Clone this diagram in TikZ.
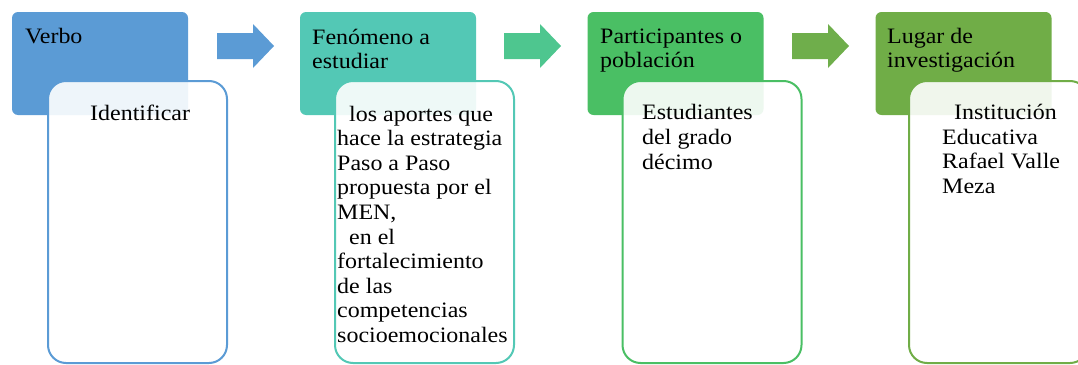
\documentclass[tikz,border=0pt]{standalone}
\usepackage{fontspec}
\setmainfont{Liberation Serif}[FakeStretch=1.09]
\definecolor{cA}{HTML}{5B9BD5}
\definecolor{cB}{HTML}{53C8B5}
\definecolor{cC}{HTML}{4ABF64}
\definecolor{cD}{HTML}{70AD47}
\definecolor{aA}{HTML}{5B9BD5}
\definecolor{aB}{HTML}{4EC68F}
\definecolor{aC}{HTML}{6FAE4B}
\tikzset{
  hdr/.style={rectangle, rounded corners=6pt, minimum width=176pt, minimum height=103pt, inner sep=0pt, draw=none},
  wbox/.style={rectangle, rounded corners=18pt, minimum width=179pt, minimum height=282pt, inner sep=0pt, line width=2pt, fill=white, fill opacity=0.9, draw opacity=1},
  txt/.style={inner sep=0pt, align=left, anchor=base west, font=\fontsize{22}{24.6}\selectfont, text=black},
  htxt/.style={txt, font=\fontsize{22}{24}\selectfont}
}
\newcommand{\ind}{\hspace*{12pt}}
\begin{document}
\begin{tikzpicture}[x=1pt,y=-1pt]
\useasboundingbox (0,0) rectangle (1078,364);
\clip (0,0) rectangle (1078,364);
% headers
\node[hdr, fill=cA] (h1) at (100,63.5) {};
\node[hdr, fill=cB] (h2) at (388,63.5) {};
\node[hdr, fill=cC] (h3) at (675.5,63.5) {};
\node[hdr, fill=cD] (h4) at (963.5,63.5) {};
% white boxes
\node[wbox, draw=cA] (w1) at (137.5,222) {};
\node[wbox, draw=cB] (w2) at (424.5,222) {};
\node[wbox, draw=cC] (w3) at (712,222) {};
\node[wbox, draw=cD] (w4) at (998.5,222) {};
% arrows
\foreach \x/\c in {217/aA, 504/aB, 792/aC}{
  \fill[\c] (\x,33) -- (\x+36,33) -- (\x+36,24) -- (\x+57,46) -- (\x+36,68) -- (\x+36,59) -- (\x,59) -- cycle;
}
% header texts (anchored at the baseline of the last line)
\node[htxt] (t1) at (25,43.5) {Verbo};
\node[htxt] (t2) at (312,68) {Fenómeno a\\estudiar};
\node[htxt] (t3) at (600,67.5) {Participantes o\\población};
\node[htxt] (t4) at (887,67.5) {Lugar de\\investigación};
% box texts (anchored at the baseline of the last line)
\node[txt] (b1) at (90,120.5) {Identificar};
\node[txt] (b2) at (337,342.5) {\ind los aportes que\\hace la estrategia\\Paso a Paso\\propuesta por el\\MEN,\\\ind en el\\fortalecimiento\\de las\\competencias\\socioemocionales};
\node[txt] (b3) at (642,169) {Estudiantes\\del grado\\décimo};
\node[txt] (b4) at (942,193.5) {\ind Institución\\Educativa\\Rafael Valle\\Meza};
\end{tikzpicture}
\end{document}
